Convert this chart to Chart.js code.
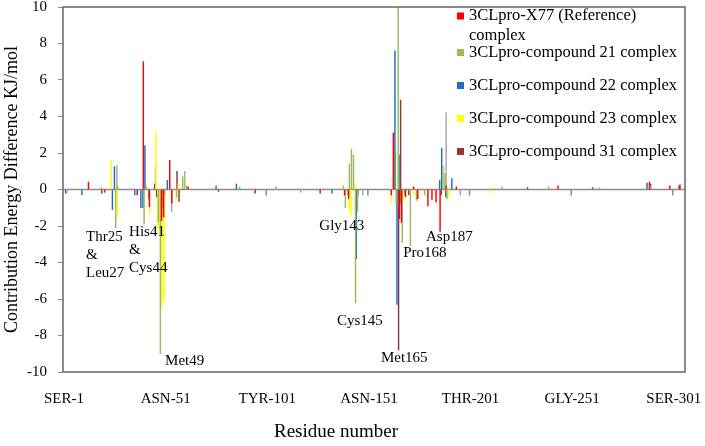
<!DOCTYPE html>
<html>
<head>
<meta charset="utf-8">
<script src="https://cdn.jsdelivr.net/npm/chart.js@4"></script>
<style>
  html, body { margin: 0; padding: 0; background: #fff; }
  #wrap { width: 705px; height: 446px; }
</style>
</head>
<body>
<div id="wrap"><canvas id="myChart"></canvas></div>
<script>
// 3CLpro (Mpro) sequence, residues 1-306, used for the category labels
const sequence = 'SGFRKMAFPSGKVEGCMVQVTCGTTTLNGLWLDDVVYCPRHVICTSEDMLNPNYEDLLIRKSNHNFLVQAGNVQLRVIGHSMQNCVLKLKVDTANPKTPKYKFVRIQPGQTFSVLACYNGSPSGVYQCAMRPNFTIKGSFLNGSCGSVGFNIDYDCVSFCYMHHMELPTGVHAGTDLEGNFYGPFVDRQTAQAAGTDTTITVNVLAWLYAAVINGDRWFLNRFTTTLNDFNLVAMKYNYEPLTQDHVDILGPLSAQTGIAVLDMCASLKELLQNGMNGRTILGSALLEDEFTPFDVVRQCSGVTFQ';
const threeLetter = { A: 'ALA', R: 'ARG', N: 'ASN', D: 'ASP', C: 'CYS', Q: 'GLN', E: 'GLU', G: 'GLY', H: 'HIS', I: 'ILE',
  L: 'LEU', K: 'LYS', M: 'MET', F: 'PHE', P: 'PRO', S: 'SER', T: 'THR', W: 'TRP', Y: 'TYR', V: 'VAL' };

// [residue number, energy difference kJ/mol] -- residues not listed are ~0
const x77Ref = [[1,0.3],[14,0.4],[22,-0.15],[38,-0.3],[41,7.0],[44,-0.95],[50,-1.7],[51,-1.5],[54,1.6],[55,-0.75],
  [63,0.15],[78,-0.1],[96,-0.2],[128,-0.2],[140,-0.3],[142,-0.5],[163,-0.3],[164,3.1],[167,-1.6],[168,-1.8],[170,-0.4],
  [174,0.15],[176,-0.5],[181,-0.9],[183,-0.55],[185,-0.7],[187,-2.3],[190,0.2],[195,0.15],[230,0.1],[245,0.2],[262,0.1],
  [290,0.4],[300,0.2],[305,0.25]];
const cpd21 = [[3,-0.2],[20,0.1],[27,-2.1],[28,0.2],[41,-1.9],[42,0.2],[48,-1.8],[49,-9.0],[50,-1.0],[57,-0.4],[60,0.7],
  [61,1.0],[62,0.2],[88,0.15],[106,0.15],[118,-0.15],[139,0.2],[140,-1.0],[142,1.4],[143,2.2],[144,1.9],[145,-6.2],
  [146,-1.2],[165,-0.8],[166,10.0],[168,-2.9],[172,-3.1],[175,-0.6],[179,-0.3],[188,1.3],[189,0.9],[190,-0.5],
  [217,0.15],[240,0.15],[265,0.1],[290,0.2]];
const cpd22 = [[2,-0.2],[10,-0.3],[25,-1.1],[26,1.25],[36,-0.3],[39,-1.0],[40,-1.0],[41,2.4],[43,-0.5],[52,0.5],
  [76,0.2],[86,0.3],[133,-0.2],[141,-0.3],[145,-3.8],[164,7.6],[165,-6.3],[166,1.9],[167,-0.8],[169,-0.3],[186,0.5],
  [187,2.25],[189,-0.4],[192,0.6],[288,0.35]];
const cpd23 = [[6,0.1],[24,1.6],[27,-1.5],[43,-1.3],[46,3.15],[47,-2.1],[48,-2.5],[49,-6.4],[50,-6.0],[56,-0.6],
  [57,0.3],[105,0.15],[141,-1.1],[142,-1.4],[144,0.3],[162,-0.7],[164,2.0],[166,-0.3],[168,-0.6],[173,-0.3],
  [188,0.4],[189,-0.6],[190,-0.4],[211,-0.2]];
const cpd31 = [[19,-0.2],[45,0.3],[46,-0.4],[56,1.0],[57,-0.65],[145,-0.3],[165,-8.8],[166,4.9],[170,-0.3],
  [186,-0.3],[289,0.3],[303,0.2]];
const unlisted = [[26,1.3],[45,1.25],[53,-1.2],[147,-0.3],[188,4.2],[195,-0.3]];

const seriesNames = ['3CLpro-X77 (Reference) complex', '3CLpro-compound 21 complex', '3CLpro-compound 22 complex',
  '3CLpro-compound 23 complex', '3CLpro-compound 31 complex'];
const seriesColors = ['#FF0000', '#9BBB59', '#1F6FC0', '#FFFF00', '#953735', '#A6A6A6'];

const notes = [
  { text: 'Thr25\n&\nLeu27', residue: 11.8, value: -2.58 },
  { text: 'His41\n&\nCys44', residue: 33.0, value: -2.34 },
  { text: 'Met49', residue: 50.7, value: -9.42 },
  { text: 'Gly143', residue: 126.6, value: -2.01 },
  { text: 'Cys145', residue: 135.3, value: -7.22 },
  { text: 'Met165', residue: 156.9, value: -9.26 },
  { text: 'Pro168', residue: 167.9, value: -3.51 },
  { text: 'Asp187', residue: 179.1, value: -2.61 }
];

const residueLabels = sequence.split('').map((c, i) => `${threeLetter[c]}-${i + 1}`);
const toSeries = pairs => {
  const arr = new Array(residueLabels.length).fill(null);
  pairs.forEach(([r, v]) => { arr[r - 1] = v; });
  return arr;
};

const serif = 'Liberation Serif, Times New Roman, serif';
Chart.defaults.font.family = serif;
Chart.defaults.color = '#000';

const allSeries = [x77Ref, cpd21, cpd22, cpd23, cpd31, unlisted];
const datasets = allSeries.map((s, i) => ({
  label: seriesNames[i] || 'Other complex',
  data: toSeries(s),
  backgroundColor: seriesColors[i],
  borderWidth: 0,
  barThickness: 0.8
}));

const decor = {
  id: 'decor',
  beforeDatasetsDraw(chart) {
    const { ctx, chartArea: a, scales: { x, y } } = chart;
    const y0 = y.getPixelForValue(0);
    ctx.save();
    ctx.strokeStyle = '#8c8c8c';
    ctx.lineWidth = 1.5;
    ctx.beginPath();
    ctx.moveTo(a.left, y0);
    ctx.lineTo(a.right, y0);
    // category axis tick marks every 50 residues
    for (let i = 50; i < residueLabels.length; i += 50) {
      const px = x.getPixelForValue(i - 0.5);
      ctx.moveTo(px, y0);
      ctx.lineTo(px, y0 + 6);
    }
    ctx.stroke();
    ctx.restore();
  },
  afterDraw(chart) {
    const { ctx, chartArea: a, scales: { x, y } } = chart;
    ctx.save();
    ctx.strokeStyle = '#6e6e6e';
    ctx.lineWidth = 1.6;
    ctx.strokeRect(a.left, a.top, a.right - a.left, a.bottom - a.top);

    // x axis title (sits left of the plot centre in the original)
    ctx.fillStyle = '#000';
    ctx.font = `19px ${serif}`;
    ctx.textAlign = 'center';
    ctx.textBaseline = 'middle';
    ctx.fillText('Residue number', a.left + 273, a.bottom + 60);

    // residue annotations
    ctx.font = `15px ${serif}`;
    ctx.textAlign = 'left';
    notes.forEach(n => {
      const px = x.getPixelForValue(n.residue - 1);
      const py = y.getPixelForValue(n.value);
      n.text.split('\n').forEach((line, k) => ctx.fillText(line, px, py + k * 18));
    });

    // legend
    ctx.font = `16.5px ${serif}`;
    const lx = a.right - 228;
    let ly = a.top + 9;
    seriesNames.forEach((name, i) => {
      ctx.fillStyle = seriesColors[i];
      ctx.fillRect(lx, ly - 3.5, 7, 7);
      ctx.fillStyle = '#000';
      const words = name.split(' ');
      const lines = [];
      let cur = '';
      words.forEach(w => {
        const t = cur ? cur + ' ' + w : w;
        if (cur && ctx.measureText(t).width > 218) { lines.push(cur); cur = w; } else { cur = t; }
      });
      lines.push(cur);
      lines.forEach((l, k) => ctx.fillText(l, lx + 12, ly + k * 20));
      ly += i === 0 ? 36.5 : 33;
    });
    ctx.restore();
  }
};

new Chart(document.getElementById('myChart'), {
  type: 'bar',
  data: { labels: residueLabels, datasets },
  options: {
    responsive: true,
    maintainAspectRatio: false,
    animation: false,
    devicePixelRatio: 1,
    layout: { padding: { top: 7, right: 20, left: 0, bottom: 0 } },
    plugins: { legend: { display: false }, tooltip: { enabled: true } },
    scales: {
      x: {
        grid: { display: false },
        border: { display: false },
        ticks: {
          autoSkip: false, maxRotation: 0, minRotation: 0, padding: 10,
          font: { size: 15, family: serif }, color: '#000',
          callback: (v, i) => (i % 50 === 0 ? residueLabels[i] : '')
        },
        title: { display: false },
        afterFit: s => { s.height = 74; s.paddingLeft = 0; s.paddingRight = 0; }
      },
      y: {
        min: -10, max: 10,
        ticks: { stepSize: 2, padding: 11, font: { size: 15, family: serif, lineHeight: 1 }, color: '#000' },
        grid: { drawOnChartArea: false, drawTicks: true, tickLength: 5, color: '#8c8c8c' },
        border: { display: false },
        title: { display: true, text: 'Contribution Energy Difference KJ/mol', font: { size: 18, family: serif }, color: '#000', padding: { top: 1, bottom: 0 } },
        afterFit: s => { s.width = 63; s.paddingTop = 0; s.paddingBottom = 0; }
      }
    }
  },
  plugins: [decor]
});
</script>
</body>
</html>
